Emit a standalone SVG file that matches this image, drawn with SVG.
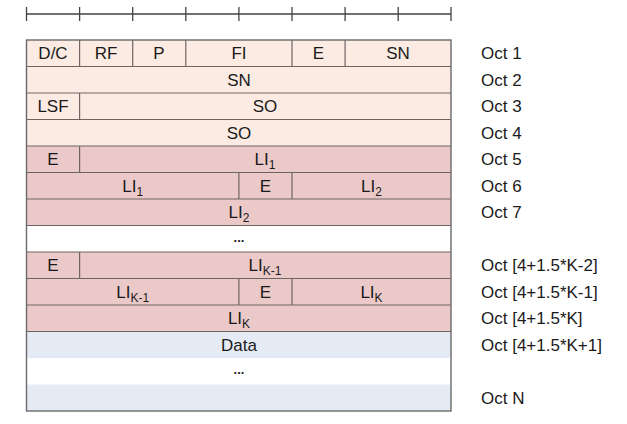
<svg xmlns="http://www.w3.org/2000/svg" width="627" height="424" viewBox="0 0 627 424">
<style>
.t{font-family:"Liberation Sans",Arial,sans-serif;font-size:17px;fill:#1a1a1a;text-anchor:middle}
.o{font-family:"Liberation Sans",Arial,sans-serif;font-size:17px;fill:#1a1a1a}
.s{font-size:12px}
.pe{fill:#fcebe2}
.pk{fill:#ebc9c9}
.wh{fill:#ffffff}
.bl{fill:#e5ebf5}
.ln{stroke:#6f6464;stroke-width:1.2;fill:none}
.rl{stroke:#444;stroke-width:1.3;fill:none}
.dots{font-family:"Liberation Sans",Arial,sans-serif;font-size:13px;font-weight:bold;fill:#222;text-anchor:middle}
</style>
<rect width="627" height="424" fill="#ffffff"/>
<g id="ruler">
<path class="rl" d="M26.5 14H451 M26.5 7V21 M79.6 7V21 M132.7 7V21 M185.8 7V21 M238.9 7V21 M292 7V21 M345.1 7V21 M398.2 7V21 M451 7V21"/>
</g>
<g id="backgrounds">
<rect class="pe" x="26.5" y="40" width="424.5" height="106"/>
<rect class="pk" x="26.5" y="146" width="424.5" height="79.5"/>
<rect class="wh" x="26.5" y="225.5" width="424.5" height="26.5"/>
<rect class="pk" x="26.5" y="252" width="424.5" height="79.5"/>
<rect class="bl" x="26.5" y="331.5" width="424.5" height="26.5"/>
<rect class="wh" x="26.5" y="358" width="424.5" height="26.5"/>
<rect class="bl" x="26.5" y="384.5" width="424.5" height="26.5"/>
</g>
<g id="connectors">
<path class="ln" d="M26.5 66.5H451 M26.5 93H451 M26.5 119.5H451 M26.5 146H451 M26.5 172.5H451 M26.5 199H451 M26.5 225.5H451 M26.5 252H451 M26.5 278.5H451 M26.5 305H451 M26.5 331.5H451"/>
<path class="ln" d="M79.6 40V66.5 M132.7 40V66.5 M185.8 40V66.5 M292 40V66.5 M345.1 40V66.5 M79.6 93V119.5 M79.6 146V172.5 M238.9 172.5V199 M292 172.5V199 M79.6 252V278.5 M238.9 278.5V305 M292 278.5V305"/>
<rect x="26.5" y="40" width="424.5" height="371" fill="none" stroke="#6a6a6a" stroke-width="1.4"/>
</g>
<g id="oct1">
<text class="t" x="53" y="59">D/C</text>
<text class="t" x="106" y="59">RF</text>
<text class="t" x="159" y="59">P</text>
<text class="t" x="239" y="59">FI</text>
<text class="t" x="318.5" y="59">E</text>
<text class="t" x="398" y="59">SN</text>
<text class="o" x="481" y="59">Oct 1</text>
</g>
<g id="oct2">
<text class="t" x="239" y="85.5">SN</text>
<text class="o" x="481" y="85.5">Oct 2</text>
</g>
<g id="oct3">
<text class="t" x="53" y="112">LSF</text>
<text class="t" x="265" y="112">SO</text>
<text class="o" x="481" y="112">Oct 3</text>
</g>
<g id="oct4">
<text class="t" x="239" y="138.5">SO</text>
<text class="o" x="481" y="138.5">Oct 4</text>
</g>
<g id="oct5">
<text class="t" x="53" y="165">E</text>
<text class="t" x="265" y="165">LI<tspan class="s" dy="4">1</tspan></text>
<text class="o" x="481" y="165">Oct 5</text>
</g>
<g id="oct6">
<text class="t" x="132.7" y="191.5">LI<tspan class="s" dy="4">1</tspan></text>
<text class="t" x="265.5" y="191.5">E</text>
<text class="t" x="371.5" y="191.5">LI<tspan class="s" dy="4">2</tspan></text>
<text class="o" x="481" y="191.5">Oct 6</text>
</g>
<g id="oct7">
<text class="t" x="239" y="218">LI<tspan class="s" dy="4">2</tspan></text>
<text class="o" x="481" y="218">Oct 7</text>
</g>
<g id="gap1">
<text class="dots" x="239" y="242">...</text>
</g>
<g id="octK2">
<text class="t" x="53" y="271">E</text>
<text class="t" x="265" y="271">LI<tspan class="s" dy="4">K-1</tspan></text>
<text class="o" x="481" y="271">Oct [4+1.5*K-2]</text>
</g>
<g id="octK1">
<text class="t" x="132.7" y="297.5">LI<tspan class="s" dy="4">K-1</tspan></text>
<text class="t" x="265.5" y="297.5">E</text>
<text class="t" x="371.5" y="297.5">LI<tspan class="s" dy="4">K</tspan></text>
<text class="o" x="481" y="297.5">Oct [4+1.5*K-1]</text>
</g>
<g id="octK">
<text class="t" x="239" y="324">LI<tspan class="s" dy="4">K</tspan></text>
<text class="o" x="481" y="324">Oct [4+1.5*K]</text>
</g>
<g id="octK1p">
<text class="t" x="239" y="350.5">Data</text>
<text class="o" x="481" y="350.5">Oct [4+1.5*K+1]</text>
</g>
<g id="gap2">
<text class="dots" x="239" y="374">...</text>
</g>
<g id="octN">
<text class="o" x="481" y="403.5">Oct N</text>
</g>
</svg>
